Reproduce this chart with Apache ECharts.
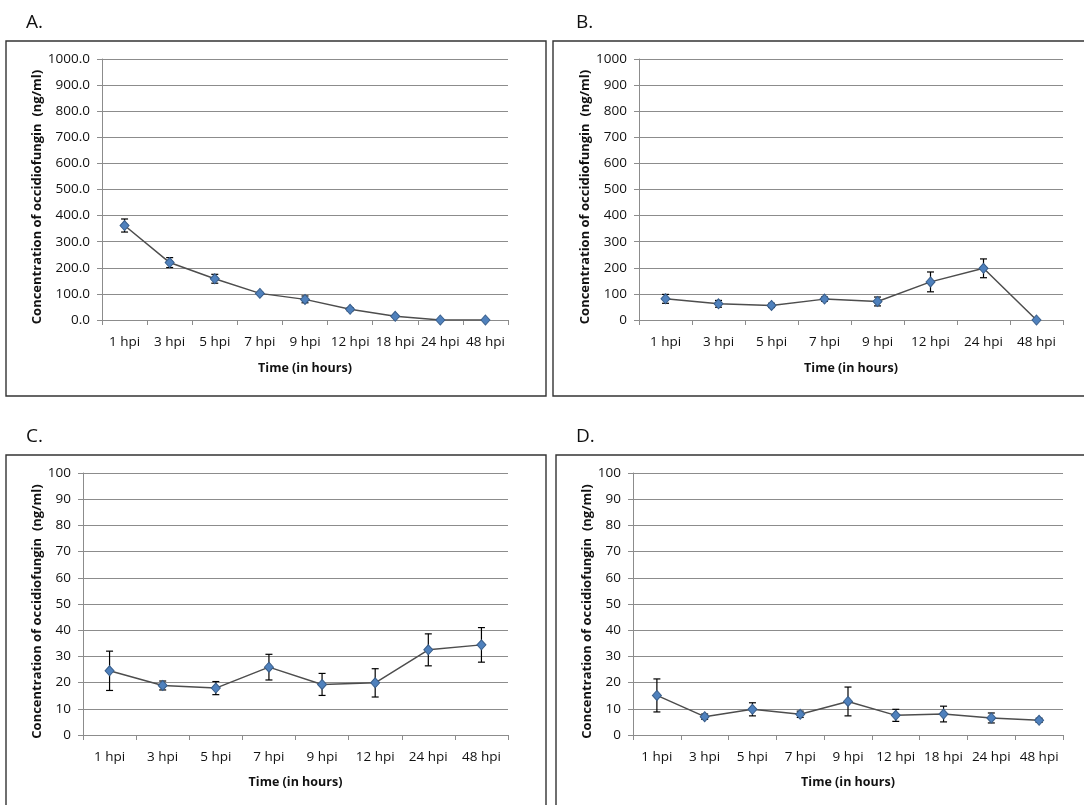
<!DOCTYPE html>
<html>
<head>
<meta charset="utf-8">
<title>Occidiofungin concentration over time</title>
<script src="https://cdn.jsdelivr.net/npm/echarts@6/dist/echarts.min.js"></script>
<style>
  html, body { margin: 0; padding: 0; background: #ffffff; }
  #chart { width: 1084px; height: 805px; }
</style>
</head>
<body>
<div id="chart"></div>
<script>
// Sampling times (hours post inoculation)
const hoursNine = ['1 hpi', '3 hpi', '5 hpi', '7 hpi', '9 hpi', '12 hpi', '18 hpi', '24 hpi', '48 hpi'];
const hoursEight = ['1 hpi', '3 hpi', '5 hpi', '7 hpi', '9 hpi', '12 hpi', '24 hpi', '48 hpi'];

// Mean concentration (ng/ml) and error (±) per panel
const meanA = [362, 220, 158, 102, 79, 41, 14, 0, 0];
const errA  = [25, 19, 17, 4, 13, 6, 3, 0, 0];

const meanB = [81, 62, 56, 80, 71, 146, 198, 0];
const errB  = [17, 13, 8, 8, 17, 38, 36, 0];

const meanC = [24.5, 18.9, 17.9, 25.9, 19.3, 19.9, 32.5, 34.4];
const errC  = [7.5, 1.7, 2.5, 4.9, 4.2, 5.4, 6.1, 6.6];

const meanD = [15.1, 7.0, 9.8, 7.9, 12.8, 7.5, 8.0, 6.5, 5.6];
const errD  = [6.3, 1.0, 2.5, 1.2, 5.5, 2.3, 3.0, 1.9, 0.8];

// Axis settings and text
const panelLetters = ['A.', 'B.', 'C.', 'D.'];
const yMaxTop = 1000, yStepTop = 100;
const yMaxBottom = 100, yStepBottom = 10;
const yTitle = 'Concentration of occidiofungin  (ng/ml)';
const xTitle = 'Time (in hours)';

const FONT = 'Open Sans';
const TEXT = '#111111';
const GRID = '#8c8c8c';

const panels = [
  { cats: hoursNine,  mean: meanA, err: errA, max: yMaxTop,    step: yStepTop,    dec: 1,
    grid: { left: 102, top: 59,  width: 406, height: 261 }, yGap: 57, xGap: 42 },
  { cats: hoursEight, mean: meanB, err: errB, max: yMaxTop,    step: yStepTop,    dec: 0,
    grid: { left: 639, top: 59,  width: 424, height: 261 }, yGap: 47, xGap: 42 },
  { cats: hoursEight, mean: meanC, err: errC, max: yMaxBottom, step: yStepBottom, dec: 0,
    grid: { left: 83,  top: 473, width: 425, height: 262 }, yGap: 39, xGap: 41 },
  { cats: hoursNine,  mean: meanD, err: errD, max: yMaxBottom, step: yStepBottom, dec: 0,
    grid: { left: 633, top: 473, width: 430, height: 262 }, yGap: 39, xGap: 41 }
];

const frames = [
  { x: 6,   y: 41,  w: 540, h: 355 },
  { x: 553, y: 41,  w: 540, h: 355 },
  { x: 6,   y: 455, w: 540, h: 400 },
  { x: 556, y: 455, w: 540, h: 400 }
];
const letterPos = [[26, 23], [576, 23], [26, 437], [576, 437]];

const grids = [], xAxes = [], yAxes = [], series = [], graphics = [];

panels.forEach((p, i) => {
  grids.push(Object.assign({ containLabel: false }, p.grid));

  xAxes.push({
    type: 'category',
    gridIndex: i,
    data: p.cats,
    boundaryGap: true,
    name: xTitle,
    nameLocation: 'middle',
    nameGap: p.xGap,
    nameTextStyle: { fontFamily: FONT, fontWeight: 'bold', fontSize: 12.5, color: TEXT },
    axisLine: { lineStyle: { color: GRID, width: 1 } },
    axisTick: { show: true, length: 5, inside: false, lineStyle: { color: GRID } },
    axisLabel: { interval: 0, margin: 15, fontFamily: FONT, fontSize: 13.5, color: TEXT },
    splitLine: { show: false }
  });

  yAxes.push({
    type: 'value',
    gridIndex: i,
    min: 0,
    max: p.max,
    interval: p.step,
    name: yTitle,
    nameLocation: 'middle',
    nameRotate: 90,
    nameGap: p.yGap,
    // extra trailing padding moves the rotated title slightly down the axis
    nameTextStyle: { fontFamily: FONT, fontWeight: 'bold', fontSize: 13, color: TEXT, padding: [0, 15, 0, 0] },
    axisLine: { show: true, lineStyle: { color: GRID, width: 1 } },
    axisTick: { show: true, length: 5, inside: false, lineStyle: { color: GRID } },
    axisLabel: {
      margin: 12, fontFamily: FONT, fontSize: 13.5, color: TEXT,
      formatter: v => v.toFixed(p.dec)
    },
    splitLine: { show: true, lineStyle: { color: GRID, width: 1 } }
  });

  // error bars drawn beneath the markers
  series.push({
    type: 'custom',
    xAxisIndex: i,
    yAxisIndex: i,
    z: 2,
    silent: true,
    data: p.mean.map((m, k) => [k, m - p.err[k], m + p.err[k]]),
    renderItem: (params, api) => {
      const lo = api.value(1), hi = api.value(2);
      if (hi === lo) return null;
      const top = api.coord([api.value(0), hi]);
      const bot = api.coord([api.value(0), lo]);
      const hw = 3.5;
      const style = { stroke: '#000000', lineWidth: 1.2 };
      return {
        type: 'group',
        children: [
          { type: 'line', shape: { x1: top[0], y1: top[1], x2: bot[0], y2: bot[1] }, style },
          { type: 'line', shape: { x1: top[0] - hw, y1: top[1], x2: top[0] + hw, y2: top[1] }, style },
          { type: 'line', shape: { x1: bot[0] - hw, y1: bot[1], x2: bot[0] + hw, y2: bot[1] }, style }
        ]
      };
    }
  });

  series.push({
    type: 'line',
    xAxisIndex: i,
    yAxisIndex: i,
    z: 3,
    data: p.mean,
    symbol: 'diamond',
    symbolSize: [9, 10],
    showAllSymbol: true,
    lineStyle: { color: '#4d4d4d', width: 1.5 },
    itemStyle: { color: '#4f81bd', borderColor: '#385d8a', borderWidth: 1 },
    animation: false
  });

  graphics.push({
    type: 'rect',
    shape: { x: frames[i].x, y: frames[i].y, width: frames[i].w, height: frames[i].h },
    style: { fill: 'none', stroke: '#333333', lineWidth: 1.4 },
    silent: true
  });
  graphics.push({
    type: 'text',
    x: letterPos[i][0],
    y: letterPos[i][1],
    style: {
      text: panelLetters[i], fill: TEXT, font: '19px "' + FONT + '"',
      textAlign: 'left', textVerticalAlign: 'middle'
    },
    silent: true
  });
});

const chart = echarts.init(document.getElementById('chart'), null, { renderer: 'canvas' });
chart.setOption({
  backgroundColor: '#ffffff',
  animation: false,
  grid: grids,
  xAxis: xAxes,
  yAxis: yAxes,
  series: series,
  graphic: graphics
});
</script>
</body>
</html>
